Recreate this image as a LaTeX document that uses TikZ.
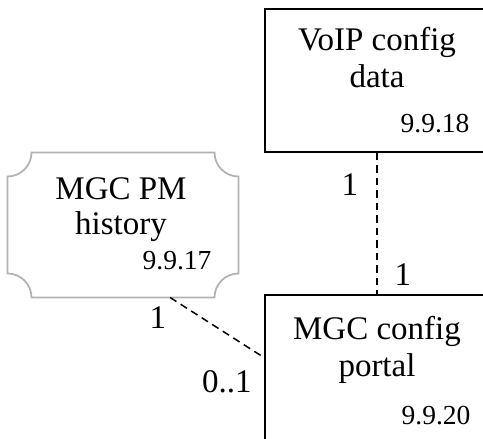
\documentclass[tikz,border=0pt]{standalone}
\usepackage{fontspec}
\setmainfont{Liberation Serif}
\usetikzlibrary{calc,positioning}

\begin{document}
\begin{tikzpicture}[x=0.4pt,y=0.4pt]
  \newcommand{\bigfont}{\fontsize{13.2}{15}\selectfont};
  \newcommand{\numfont}{\fontsize{11}{12}\selectfont};
  \newcommand{\rc}{9.6pt};
  \useasboundingbox (0,0) rectangle (483,439);
  \clip (0,0) rectangle (483,439);
  \tikzstyle{entity}=[rectangle, draw=black, line width=0.8pt, inner sep=0pt, minimum width=89.6pt]
  \tikzstyle{link}=[dash pattern=on 3pt off 2pt, line width=0.6pt]
  \node[entity, minimum height=57.2pt] (voip) at (377,358.5){};
  \node[entity, minimum height=66pt] (portal) at (377,61.5){};
  \node[rectangle, inner sep=0pt, minimum width=92pt, minimum height=57.6pt] (hist) at (123,214){};
  % history box with hollow corners
  \draw[gray!60, line width=0.7pt]
    ($(hist.north west)+(\rc,0pt)$) -- ($(hist.north east)+(-\rc,0pt)$)
    arc[start angle=180, end angle=270, radius=\rc]
    -- ($(hist.south east)+(0pt,\rc)$)
    arc[start angle=90, end angle=180, radius=\rc]
    -- ($(hist.south west)+(\rc,0pt)$)
    arc[start angle=0, end angle=90, radius=\rc]
    -- ($(hist.north west)+(0pt,-\rc)$)
    arc[start angle=270, end angle=360, radius=\rc] -- cycle;
  \foreach \n/\x/\y/\t in {v1/377/388/VoIP config, v2/377/351/data,
                           p1/377/99/MGC config, p2/377/62/portal,
                           h1/121/239/MGC PM, h2/121/204/history}{
    \node[anchor=base, inner sep=0pt, font=\bigfont] (t\n) at (\x,\y){\t};
  }
  \foreach \n/\x/\y/\t in {v/470/306/9.9.18, p/471/14/9.9.20, h/212/169/9.9.17}{
    \node[anchor=base east, inner sep=0pt, font=\numfont] (num\n) at (\x,\y){\t};
  }
  \draw[link] (voip.south) -- (portal.north);
  \draw[link] (hist.-57) -- (portal.170.6);
  \foreach \n/\x/\y/\t in {a/350/254/1, b/403/164/1, c/158/121/1, d/227/57/0..1}{
    \node[inner sep=0pt, font=\bigfont] (m\n) at (\x,\y){\t};
  }
\end{tikzpicture}
\end{document}
